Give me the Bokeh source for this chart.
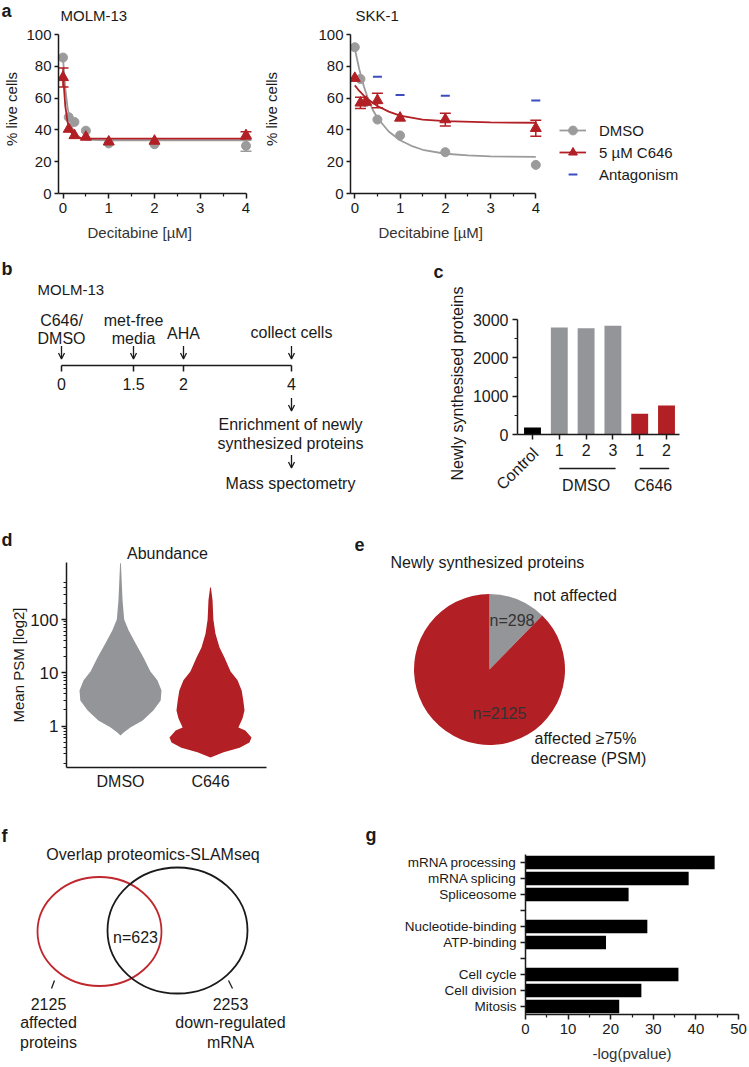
import math
from bokeh.plotting import figure
from bokeh.layouts import column, row
from bokeh.models import (Range1d, FactorRange, FixedTicker, Label, Legend,
                          LegendItem, Title, BasicTickFormatter, Arrow, OpenHead)
from bokeh.core.properties import value
from bokeh.embed import file_html
from bokeh.resources import INLINE

# ---------------- data ----------------
# a: dose response (% live cells)
dose_um = [0, 0.125, 0.25, 0.5, 1, 2, 4]
molm_dmso = [85.5, 48, 45, 39.5, 31.5, 31, 30]
molm_dmso_err = [0, 0, 0, 0, 0, 0, 3.5]
molm_c646 = [73, 40.5, 36.5, 35.5, 32.5, 33, 36.5]
molm_c646_err = [6, 0, 0, 0, 0, 0, 2.3]
skk_dmso = [92, 72, 57.5, 46.5, 36.5, 26, 18]
skk_dmso_err = [0, 0, 0, 0, 0, 0, 0]
skk_c646 = [72.5, 57, 57.5, 58.5, 47.5, 46.5, 41]
skk_c646_err = [0, 3.5, 0, 4.5, 0, 4, 5]
antagonism_dose = [0.5, 1, 2, 4]
skk_antagonism = [73.5, 62, 61.5, 58.5]
# fitted curves
molm_dmso_fit_x = [0, 0.05, 0.1, 0.15, 0.2, 0.25, 0.3, 0.4, 0.5, 0.75, 1, 2, 4]
molm_dmso_fit_y = [85, 66, 54, 46.5, 41.5, 38.5, 36.5, 34.7, 34, 33.6, 33.5, 33.5, 33.5]
molm_c646_fit_x = [0, 0.05, 0.1, 0.15, 0.2, 0.3, 0.4, 0.5, 1, 4]
molm_c646_fit_y = [75, 55, 45, 40, 37.5, 35.5, 34.8, 34.5, 34.5, 34.5]
skk_dmso_fit_x = [0, 0.1, 0.2, 0.3, 0.4, 0.5, 0.75, 1, 1.25, 1.5, 2, 2.5, 3, 4]
skk_dmso_fit_y = [91, 78, 67.5, 59, 52.5, 47.5, 39, 33.5, 30, 27.5, 25, 24, 23.4, 23]
skk_c646_fit_x = [0, 0.1, 0.2, 0.3, 0.5, 0.75, 1, 1.5, 2, 3, 4]
skk_c646_fit_y = [68, 64.5, 61.5, 59, 55, 51.5, 49, 46.5, 45.5, 44.7, 44.5]
dose_titles = ["MOLM-13", "SKK-1"]

# b: workflow
timeline_hours = ["0", "1.5", "2", "4"]
timeline_events = [["C646/", "DMSO"], ["met-free", "media"], ["AHA"], ["collect cells"]]
workflow_steps = ["Enrichment of newly", "synthesized proteins", "Mass spectometry"]

# c: newly synthesised proteins
c_lane_labels = ["Control", "1", "2", "3", "1", "2"]
c_lane_groups = ["Control", "DMSO", "DMSO", "DMSO", "C646", "C646"]
c_newly_synth = [180, 2790, 2775, 2840, 540, 757]

# d: violin (Mean PSM, relative density)
violin_groups = ["DMSO", "C646"]
dmso_psm = [0.66, 0.75, 0.94, 1.27, 1.96, 3.0, 4.65, 7.2, 10.6, 19.4, 35.5, 62, 100, 229, 1135]
dmso_density = [0, 0.07, 0.24, 0.54, 0.80, 0.98, 1.0, 0.90, 0.73, 0.56, 0.37, 0.20, 0.09, 0.05, 0.01]
c646_psm = [0.256, 0.32, 0.39, 0.49, 0.61, 0.82, 0.94, 1.38, 1.96, 3.0, 4.65, 7.2, 10.6,
            19.4, 29.9, 54.8, 100, 229, 401]
c646_density = [0, 0.32, 0.71, 0.95, 1.0, 0.85, 0.68, 0.78, 0.83, 0.80, 0.76, 0.66, 0.49,
                0.34, 0.22, 0.12, 0.07, 0.05, 0.01]

# e: pie
pie_labels = ["not affected", "affected ≥75%", "decrease (PSM)"]
pie_counts = [298, 2125]

# f: venn
venn_sizes = [2125, 2253]
venn_names = [["affected", "proteins"], ["down-regulated", "mRNA"]]
venn_overlap = 623

# g: enrichment
go_terms = ["mRNA processing", "mRNA splicing", "Spliceosome", "Nucleotide-binding",
            "ATP-binding", "Cell cycle", "Cell division", "Mitosis"]
go_cluster = [1, 1, 1, 2, 2, 3, 3, 3]
go_neglogp = [44.4, 38.3, 24.2, 28.6, 18.9, 35.9, 27.2, 22.0]

# ---------------- style ----------------
FONT = "Liberation Sans"
INK = "#1a1a1a"
RED = "#B21F24"
GREY = "#939598"
PT_GREY = "#9b9b9b"
BLUE = "#3b4cc0"
VENN_RED = "#C0272D"
TEXT_DARK = "#333333"
LETTER = "18px"
PAGE_W = 748


def lin_map(pa, pb, va, vb):
    k = (vb - va) / (pb - pa)
    return lambda px: va + (px - pa) * k


def log_map(pa, pb, va, vb):
    la, lb = math.log10(va), math.log10(vb)
    k = (lb - la) / (pb - pa)
    return lambda px: 10 ** (la + (px - pa) * k)


def no_align(p):
    try:
        p.frame_align = False
    except Exception:
        pass


def axes_fig(W, H, L, T, R, B, x_range, y_range, y_axis_type="auto"):
    p = figure(width=W, height=H, x_range=x_range, y_range=y_range,
               y_axis_type=y_axis_type, output_backend="svg",
               toolbar_location=None, min_border_left=L, min_border_top=T,
               min_border_right=W - R, min_border_bottom=H - B)
    p.xgrid.visible = False
    p.ygrid.visible = False
    p.outline_line_color = None
    no_align(p)
    return p


def free_fig(W, H):
    p = figure(width=W, height=H, x_range=Range1d(0, W), y_range=Range1d(0, H),
               x_axis_type=None, y_axis_type=None, output_backend="svg",
               toolbar_location=None, min_border=0)
    p.outline_line_color = None
    no_align(p)
    return p


def style_axes(p, size="15px"):
    for ax in list(p.xaxis) + list(p.yaxis):
        ax.axis_line_width = 1.5
        ax.axis_line_color = INK
        ax.major_tick_line_width = 1.5
        ax.major_tick_line_color = INK
        ax.minor_tick_line_width = 1.2
        ax.minor_tick_line_color = INK
        ax.major_tick_in = 0
        ax.major_tick_out = 5
        ax.minor_tick_in = 0
        ax.minor_tick_out = 3
        ax.major_label_text_font = FONT
        ax.major_label_text_font_size = size
        ax.major_label_text_color = INK
        ax.major_label_standoff = 4
        ax.axis_label_text_font = FONT
        ax.axis_label_text_font_style = "normal"
        ax.axis_label_text_color = TEXT_DARK


def note(p, x, y, text, size="15px", align="center", baseline="middle",
         angle=0.0, color=INK, bold=False):
    p.add_layout(Label(x=x, y=y, text=text, text_font=FONT, text_font_size=size,
                       text_align=align, text_baseline=baseline, angle=angle,
                       text_color=color, text_font_style="bold" if bold else "normal"))


def ftext(p, H, xs, ys, texts, size="16px", align="center", baseline="middle",
          bold=False, color=INK):
    p.text(x=xs, y=[H - y for y in ys], text=texts, text_font=value(FONT),
           text_font_size=value(size), text_align=align, text_baseline=baseline,
           text_color=color, text_font_style="bold" if bold else "normal")


def letter(p, H, x, mid, ch):
    ftext(p, H, [x], [mid], [ch], size=LETTER, align="left", bold=True)


def down_arrow(p, H, x, mid, length=13):
    p.add_layout(Arrow(end=OpenHead(size=6, line_width=1.3, line_color=INK),
                       x_start=x, y_start=H - (mid - length / 2),
                       x_end=x, y_end=H - (mid + length / 2),
                       line_color=INK, line_width=1.3))


# ---------------- panel a ----------------
def dose_panel(W, H, x0px, x4px, y100, B, xlab_left, ylab_standoff, groups,
               antag=None, legend_xy=None):
    L = round(x0px - 4.5)
    fx = lin_map(x0px, x4px, 0, 4)
    fy = lin_map(B, y100, 0, 100)
    p = axes_fig(W, H, L, 0, W, B, Range1d(fx(L), fx(W)), Range1d(0, fy(0)))
    p.xaxis.ticker = FixedTicker(ticks=[0, 1, 2, 3, 4], minor_ticks=[0.5, 1.5, 2.5, 3.5])
    p.yaxis.ticker = FixedTicker(ticks=[0, 20, 40, 60, 80, 100], minor_ticks=[])
    p.xaxis.bounds = (fx(L), 4)
    p.yaxis.bounds = (0, 100)
    style_axes(p, "15px")
    p.yaxis.major_tick_out = 4
    p.yaxis.major_label_standoff = 3
    p.yaxis.axis_label = "% live cells"
    p.yaxis.axis_label_text_font_size = "15px"
    p.yaxis.axis_label_text_color = INK
    p.yaxis.axis_label_standoff = ylab_standoff
    items = []
    for (name, fit_x, fit_y, ys, errs, color, marker, size) in groups:
        ln = p.line(fit_x, fit_y, line_color=color, line_width=1.8)
        ex = [x for x, e in zip(dose_um, errs) if e > 0]
        lo = [y - e for y, e in zip(ys, errs) if e > 0]
        hi = [y + e for y, e in zip(ys, errs) if e > 0]
        p.segment(x0=ex, y0=lo, x1=ex, y1=hi, line_color=color, line_width=1.5)
        p.scatter(ex + ex, lo + hi, marker="dash", size=11, line_color=color, line_width=1.5)
        pts = p.scatter(dose_um, ys, marker=marker, size=size, fill_color=color,
                        line_color=color)
        items.append((name, [ln, pts]))
    if antag is not None:
        ar = p.scatter(antag[0], antag[1], marker="dash", size=9, line_color=BLUE, line_width=2)
        items.append(("Antagonism", [ar]))
    if legend_xy is not None:
        order = ["DMSO", "5 µM C646", "Antagonism"]
        lookup = dict(items)
        lg = Legend(items=[LegendItem(label=k, renderers=lookup[k]) for k in order],
                    location=(legend_xy[0] - L, B - legend_xy[1]))
        lg.label_text_font = FONT
        lg.label_text_font_size = "15px"
        lg.label_text_color = INK
        lg.label_height = 22
        lg.glyph_height = 22
        lg.glyph_width = 27
        lg.label_standoff = 13
        lg.spacing = 0
        lg.padding = 0
        lg.margin = 0
        lg.border_line_color = None
        lg.background_fill_alpha = 0
        p.add_layout(lg)
    p.add_layout(Title(text="Decitabine [µM]", align="left", offset=xlab_left - L,
                       vertical_align="top", standoff=17, text_font=FONT,
                       text_font_size="15px", text_font_style="normal",
                       text_color=TEXT_DARK), "below")
    return p


# row 1: letter/title strip + the two dose-response plots
strip_a = free_fig(PAGE_W, 24)
letter(strip_a, 24, 1, 10.5, "a")
ftext(strip_a, 24, [60, 355], [15.3, 15.3], dose_titles, size="15px", align="left")

H1 = 233
pa1 = dose_panel(
    258, H1, 62.5, 245.5, 10, 169, 87, 3,
    [("DMSO", molm_dmso_fit_x, molm_dmso_fit_y, molm_dmso, molm_dmso_err, PT_GREY, "circle", 9),
     ("5 µM C646", molm_c646_fit_x, molm_c646_fit_y, molm_c646, molm_c646_err, RED, "triangle", 11)])
pa2 = dose_panel(
    490, H1, 96.3, 277.3, 10, 169, 120, 35,
    [("DMSO", skk_dmso_fit_x, skk_dmso_fit_y, skk_dmso, skk_dmso_err, PT_GREY, "circle", 9),
     ("5 µM C646", skk_c646_fit_x, skk_c646_fit_y, skk_c646, skk_c646_err, RED, "triangle", 11)],
    antag=(antagonism_dose, skk_antagonism), legend_xy=(301, 161))

# ---------------- panel b ----------------
Hb = 271
pb = free_fig(370, Hb)
letter(pb, Hb, 1, 11, "b")
tl_px = [61, 133, 183, 291]
tl_y = 108
ftext(pb, Hb, [37], [32], ["MOLM-13"], size="15px", align="left")
pb.line([tl_px[0], tl_px[-1]], [Hb - tl_y] * 2, line_color=INK, line_width=1.5)
pb.segment(x0=tl_px, y0=[Hb - tl_y] * 4, x1=tl_px, y1=[Hb - tl_y - 6] * 4,
           line_color=INK, line_width=1.5)
ftext(pb, Hb, tl_px, [126] * 4, timeline_hours)
for xp in tl_px:
    down_arrow(pb, Hb, xp, 95)
ev_bottom = [81, 81, 76, 75]
for xp, lines, yb in zip(tl_px, timeline_events, ev_bottom):
    n = len(lines)
    ftext(pb, Hb, [xp] * n, [yb - 18 * (n - 1 - k) for k in range(n)], lines)
wf_x = tl_px[-1] - 1
down_arrow(pb, Hb, tl_px[-1], 147)
down_arrow(pb, Hb, tl_px[-1], 204)
ftext(pb, Hb, [wf_x] * 3, [167, 186, 226], workflow_steps)

# ---------------- panel c ----------------
Wc, Hc = 378, 271
Lc, Bc = 60, 241
lanes = list(range(1, len(c_newly_synth) + 1))
fxc = lin_map(162, 296, 1, 6)
fyc = lin_map(177, 62, 0, 3000)
pc = axes_fig(Wc, Hc, Lc, 0, Wc, Bc, Range1d(fxc(Lc), fxc(Wc)), Range1d(fyc(Bc), fyc(0)))
group_colors = {"Control": "#000000", "DMSO": GREY, "C646": RED}
pc.vbar(x=lanes, top=c_newly_synth, width=0.63,
        fill_color=[group_colors[g] for g in c_lane_groups], line_color=None)
pc.xaxis.ticker = FixedTicker(ticks=lanes)
pc.xaxis.major_label_overrides = {i: ("" if g == "Control" else lab)
                                  for i, lab, g in zip(lanes, c_lane_labels, c_lane_groups)}
pc.xaxis.fixed_location = 0
pc.xaxis.bounds = (fxc(147), fxc(309))
pc.yaxis.ticker = FixedTicker(ticks=[0, 1000, 2000, 3000], minor_ticks=[500, 1500, 2500])
pc.yaxis.fixed_location = fxc(147)
pc.yaxis.bounds = (0, 3000)
style_axes(pc, "16px")
note(pc, fxc(63), fyc(14), "c", size=LETTER, align="left", bold=True)
note(pc, fxc(87), fyc(126), "Newly synthesised proteins", size="16px", angle=math.pi / 2)
note(pc, fxc(165), fyc(193), c_lane_labels[0], size="16px", align="right", angle=math.pi / 4)
for grp in ["DMSO", "C646"]:
    idx = [l for l, g in zip(lanes, c_lane_groups) if g == grp]
    x0, x1 = min(idx), max(idx)
    pc.segment(x0=[x0], y0=[fyc(211)], x1=[x1 + 0.1], y1=[fyc(211)],
               line_color=INK, line_width=1.5)
    note(pc, (x0 + x1) / 2, fyc(228), grp, size="16px")

# ---------------- panel d ----------------
strip_d = free_fig(354, 34)
letter(strip_d, 34, 1, 11.5, "d")
ftext(strip_d, 34, [167], [24.8], ["Abundance"])

Wd, Hd = 354, 260
Ld, Rd, Bd = 66, 266, 205
fxd = lin_map(120, 210, 1, 2)
fyd = log_map(163.5, 57, 1, 100)
pd_ = axes_fig(Wd, Hd, Ld, 0, Rd, Bd, Range1d(fxd(Ld), fxd(Rd)),
               Range1d(fyd(Bd), fyd(0)), y_axis_type="log")
half_w = 41 / 90
for pos, (psm, dens, col) in enumerate([(dmso_psm, dmso_density, GREY),
                                        (c646_psm, c646_density, RED)], start=1):
    pd_.harea(x1=[pos - half_w * d for d in dens], x2=[pos + half_w * d for d in dens],
              y=psm, fill_color=col)
pd_.xaxis.ticker = FixedTicker(ticks=[1, 2])
pd_.xaxis.major_label_overrides = {1: violin_groups[0], 2: violin_groups[1]}
minor_log = [m * 10 ** e for e in (-1, 0, 1) for m in range(2, 10)] + [200, 300, 400, 500]
pd_.yaxis.ticker = FixedTicker(ticks=[1, 10, 100], minor_ticks=minor_log)
pd_.yaxis.formatter = BasicTickFormatter()
style_axes(pd_, "17px")
pd_.yaxis.major_label_standoff = 3
pd_.xaxis.major_label_text_font_size = "16px"
pd_.xaxis.major_tick_out = 0
pd_.xaxis.major_label_standoff = 5
pd_.yaxis.axis_label = "Mean PSM [log2]"
pd_.yaxis.axis_label_text_font_size = "15px"
pd_.yaxis.axis_label_text_color = INK
pd_.yaxis.axis_label_standoff = 0

# ---------------- panel e ----------------
We, He = 394, 294
pe = free_fig(We, He)
letter(pe, He, 0, 16, "e")
ftext(pe, He, [36], [34], ["Newly synthesized proteins"], align="left")
total = sum(pie_counts)
a_not = 2 * math.pi * pie_counts[0] / total
a_aff = 2 * math.pi * pie_counts[1] / total
cx, cy, rad = 135, 141, 75.5
pe.wedge(x=[cx, cx], y=[He - cy] * 2, radius=rad,
         start_angle=[math.pi / 2 - a_not, math.pi / 2],
         end_angle=[math.pi / 2, math.pi / 2 + a_aff],
         fill_color=[GREY, RED], line_color=None)
ftext(pe, He, [157.5, 145], [92, 185], [f"n={pie_counts[0]}", f"n={pie_counts[1]}"],
      color=TEXT_DARK)
ftext(pe, He, [179], [67], [pie_labels[0]], align="left")
ftext(pe, He, [231, 234], [210, 230], pie_labels[1:])

# ---------------- panel f ----------------
Wf, Hf = 354, 244
pf = free_fig(Wf, Hf)
letter(pf, Hf, 1, 13, "f")
ftext(pf, Hf, [152.5], [32], ["Overlap proteomics-SLAMseq"])
pf.ellipse(x=[99, 177], y=[Hf - 109, Hf - 108], width=[124, 140], height=[109, 126],
           fill_color=None, line_color=[VENN_RED, INK], line_width=1.8)
ftext(pf, Hf, [135], [115], [f"n={venn_overlap}"])
pf.segment(x0=[54, 228], y0=[Hf - 158, Hf - 158], x1=[51, 232], y1=[Hf - 166, Hf - 166],
           line_color=INK, line_width=1.3)
for xc, size, names in zip([48, 230], venn_sizes, venn_names):
    ftext(pf, Hf, [xc] * 3, [181, 200, 220], [str(size)] + names)

# ---------------- panel g ----------------
strip_g = free_fig(394, 24)
letter(strip_g, 24, 11, 12, "g")

Wg, Hg = 394, 220
Lg, Tg, Rg, Bg = 171, 8, 384, 168
factors = []
for k, cl in enumerate(sorted(set(go_cluster))):
    if k > 0:
        factors.append(" " * k)
    factors += [t for t, c in zip(go_terms, go_cluster) if c == cl]
pg = axes_fig(Wg, Hg, Lg, Tg, Rg, Bg, Range1d(0, 50),
              FactorRange(factors=list(reversed(factors))))
pg.hbar(y=go_terms, right=go_neglogp, left=0, height=0.83, fill_color="#000000",
        line_color=None)
pg.xaxis.ticker = FixedTicker(ticks=[0, 10, 20, 30, 40, 50], minor_ticks=[5, 15, 25, 35, 45])
style_axes(pg, "15px")
pg.yaxis.major_label_text_font_size = "13.5px"
pg.xaxis.axis_label = "-log(pvalue)"
pg.xaxis.axis_label_text_font_size = "15px"
pg.xaxis.axis_label_standoff = 8

layout = column(
    strip_a,
    row(pa1, pa2),
    row(pb, pc),
    row(column(strip_d, pd_), pe),
    row(pf, column(strip_g, pg)),
)
open("out.html", "w").write(file_html(layout, INLINE))
